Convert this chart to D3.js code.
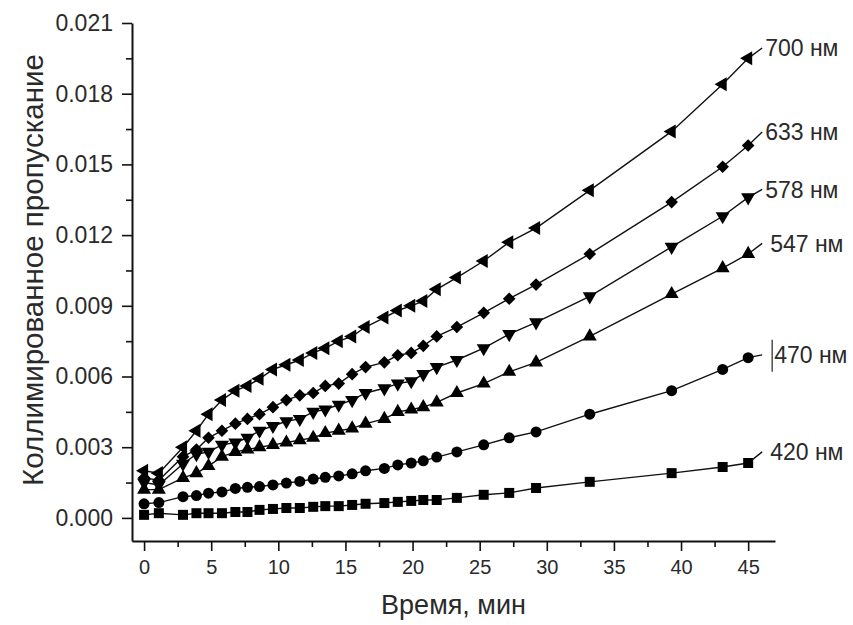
<!DOCTYPE html>
<html>
<head>
<meta charset="utf-8">
<script src="https://cdn.jsdelivr.net/npm/d3@7"></script>
<style>
  html, body { margin: 0; padding: 0; background: #fff; }
  svg { display: block; font-family: "Liberation Sans", Arial, sans-serif; }
</style>
</head>
<body>
<svg id="chart" width="853" height="625"></svg>
<script>
// Measurement times, minutes
const times = [0, 1.1, 2.9, 3.9, 4.8, 5.8, 6.8, 7.7, 8.6, 9.6, 10.6, 11.6, 12.6, 13.5, 14.5,
  15.5, 16.5, 17.9, 18.9, 19.9, 20.8, 21.8, 23.3, 25.3, 27.2, 29.2, 33.2, 39.3, 43.1, 45];

// Collimated transmittance for each wavelength
const t700 = [0.0020, 0.0019, 0.0030, 0.0037, 0.0044, 0.0050, 0.0054, 0.0056, 0.0059, 0.0063,
  0.0065, 0.0067, 0.0070, 0.0072, 0.0075, 0.0077, 0.0081, 0.0085, 0.0088, 0.0090,
  0.0092, 0.0097, 0.0102, 0.0109, 0.0117, 0.0123, 0.0139, 0.0164, 0.0184, 0.0195];
const t633 = [0.0017, 0.0016, 0.0026, 0.0029, 0.0034, 0.0037, 0.0040, 0.0042, 0.0044, 0.0047,
  0.0050, 0.0052, 0.0053, 0.0056, 0.0057, 0.0061, 0.0064, 0.0066, 0.0069, 0.0070,
  0.0073, 0.0077, 0.0081, 0.0087, 0.0093, 0.0099, 0.0112, 0.0134, 0.0149, 0.0158];
const t578 = [0.0015, 0.0014, 0.0023, 0.0027, 0.0028, 0.0031, 0.0032, 0.0034, 0.0037, 0.0039,
  0.0041, 0.0042, 0.0045, 0.0046, 0.0048, 0.0050, 0.0053, 0.0055, 0.0057, 0.0058,
  0.0061, 0.0064, 0.0067, 0.0072, 0.0078, 0.0083, 0.0094, 0.0115, 0.0128, 0.0136];
const t547 = [0.0012, 0.0012, 0.0017, 0.0019, 0.0022, 0.0026, 0.0028, 0.0029, 0.0030, 0.0031,
  0.0032, 0.0033, 0.0034, 0.0036, 0.0037, 0.0038, 0.0040, 0.0042, 0.0045, 0.0046,
  0.0047, 0.0049, 0.0053, 0.0057, 0.0062, 0.0066, 0.0077, 0.0095, 0.0106, 0.0112];
const t470 = [0.0006, 0.00065, 0.0009, 0.00095, 0.00105, 0.0011, 0.00125, 0.0013, 0.00133, 0.0014,
  0.00148, 0.00155, 0.00165, 0.00172, 0.00178, 0.00187, 0.0020, 0.0021, 0.00225, 0.00233,
  0.00242, 0.00258, 0.0028, 0.0031, 0.0034, 0.00365, 0.0044, 0.0054, 0.0063, 0.0068];
const t420 = [0.00013, 0.0002, 0.00013, 0.0002, 0.0002, 0.0002, 0.00025, 0.00025, 0.00034, 0.00038,
  0.00042, 0.00042, 0.00047, 0.0005, 0.0005, 0.00055, 0.0006, 0.00063, 0.00068, 0.00072,
  0.00076, 0.00076, 0.00085, 0.00098, 0.00106, 0.00127, 0.00153, 0.0019, 0.00216, 0.00233];

// Curve labels and the level (in axis units) where each label sits
const seriesNames = ["700 нм", "633 нм", "578 нм", "547 нм", "470 нм", "420 нм"];
const labelLevels = [0.01994, 0.01638, 0.01394, 0.01165, 0.00692, 0.0028];

const yTicks = [0, 0.003, 0.006, 0.009, 0.012, 0.015, 0.018, 0.021];
const yMinor = [0.0015, 0.0045, 0.0075, 0.0105, 0.0135, 0.0165, 0.0195];
const xTicks = [0, 5, 10, 15, 20, 25, 30, 35, 40, 45];
const xMinor = [2.5, 7.5, 12.5, 17.5, 22.5, 27.5, 32.5, 37.5, 42.5];

const xTitle = "Время, мин";
const yTitle = "Коллимированное пропускание";

const series = [
  { name: seriesNames[0], values: t700, shape: "left",    level: labelLevels[0] },
  { name: seriesNames[1], values: t633, shape: "diamond", level: labelLevels[1] },
  { name: seriesNames[2], values: t578, shape: "down",    level: labelLevels[2] },
  { name: seriesNames[3], values: t547, shape: "up",      level: labelLevels[3] },
  { name: seriesNames[4], values: t470, shape: "circle",  level: labelLevels[4] },
  { name: seriesNames[5], values: t420, shape: "square",  level: labelLevels[5] }
];

const svg = d3.select("#chart");
const x = d3.scaleLinear().domain([-0.9, 47]).range([132, 775]);
const y = d3.scaleLinear().domain([-0.00098, 0.021]).range([541, 23]);

const textColor = "#2a2a2a";

// Axes: major ticks with labels, minor ticks without
const yAxis = svg.append("g").attr("transform", `translate(${x.range()[0]},0)`)
  .call(d3.axisLeft(y).tickValues(yTicks).tickSize(10).tickSizeOuter(0).tickPadding(9)
    .tickFormat(d3.format(".3f")));
svg.append("g").attr("transform", `translate(${x.range()[0]},0)`)
  .call(d3.axisLeft(y).tickValues(yMinor).tickSize(6).tickSizeOuter(0).tickFormat(""))
  .select(".domain").remove();

const xAxis = svg.append("g").attr("transform", `translate(0,${y.range()[0]})`)
  .call(d3.axisBottom(x).tickValues(xTicks).tickSize(10).tickSizeOuter(0).tickPadding(9)
    .tickFormat(d3.format("d")));
svg.append("g").attr("transform", `translate(0,${y.range()[0]})`)
  .call(d3.axisBottom(x).tickValues(xMinor).tickSize(6).tickSizeOuter(0).tickFormat(""))
  .select(".domain").remove();

svg.selectAll(".domain").attr("stroke", "#111").attr("stroke-width", 2);
svg.selectAll(".tick line").attr("stroke", "#111").attr("stroke-width", 1.6);
yAxis.selectAll(".tick text").attr("font-size", 23).attr("fill", textColor)
  .attr("font-family", "'Liberation Sans', Arial, sans-serif");
xAxis.selectAll(".tick text").attr("font-size", 20).attr("fill", textColor)
  .attr("font-family", "'Liberation Sans', Arial, sans-serif");

// Axis titles
svg.append("text")
  .attr("x", (x.range()[0] + x.range()[1]) / 2)
  .attr("y", 614)
  .attr("text-anchor", "middle")
  .attr("font-size", 27)
  .attr("fill", textColor)
  .text(xTitle);

svg.append("text")
  .attr("transform", `translate(43,${(y.range()[0] + y.range()[1]) / 2 - 12}) rotate(-90)`)
  .attr("text-anchor", "middle")
  .attr("font-size", 29.5)
  .attr("fill", textColor)
  .text(yTitle);

// Marker shapes
const symbolFor = {
  square:  { type: d3.symbolSquare,   size: 100, rotate: 0 },
  circle:  { type: d3.symbolCircle,   size: 95,  rotate: 0 },
  up:      { type: d3.symbolTriangle, size: 85,  rotate: 0 },
  down:    { type: d3.symbolTriangle, size: 85,  rotate: 180 },
  left:    { type: d3.symbolTriangle, size: 85,  rotate: -90 },
  diamond: { type: d3.symbolSquare,   size: 80,  rotate: 45 }
};

const line = d3.line().x(d => x(d[0])).y(d => y(d[1]));
const labelX = x(45) + 14;

series.forEach(s => {
  const pts = times.map((t, i) => [t, s.values[i]]);
  const g = svg.append("g");
  // connecting line plus a short leader running out to the curve label
  g.append("path")
    .attr("d", line(pts) + `L${labelX},${y(s.level)}`)
    .attr("fill", "none")
    .attr("stroke", "#111")
    .attr("stroke-width", 1.4);
  const sym = symbolFor[s.shape];
  const path = d3.symbol().type(sym.type).size(sym.size)();
  g.selectAll("path.marker").data(pts).join("path")
    .attr("class", "marker")
    .attr("d", path)
    .attr("transform", d => `translate(${x(d[0])},${y(d[1])}) rotate(${sym.rotate})`)
    .attr("fill", "#000");
  g.append("text")
    .attr("x", labelX + 3 + (s.name === "547 нм" || s.name === "420 нм" ? 5 : s.name === "470 нм" ? 9 : 0))
    .attr("y", y(s.level))
    .attr("dy", "0.36em")
    .attr("font-size", 23)
    .attr("fill", textColor)
    .text(s.name);
});

// thin vertical bar standing just before the 470 нм label
const barX = labelX + 10;
svg.append("line")
  .attr("x1", barX).attr("x2", barX)
  .attr("y1", y(labelLevels[4]) - 15).attr("y2", y(labelLevels[4]) + 17)
  .attr("stroke", "#222").attr("stroke-width", 1.2);
</script>
</body>
</html>
